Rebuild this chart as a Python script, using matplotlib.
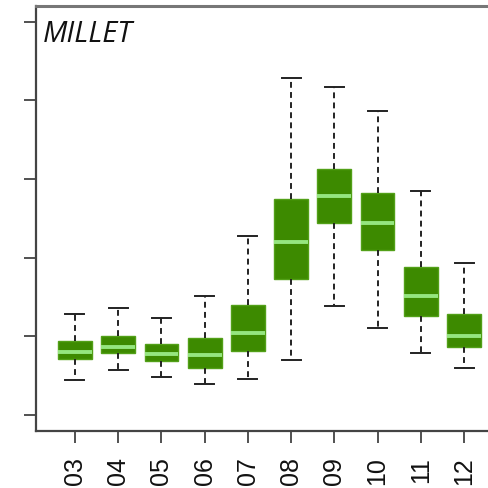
import matplotlib
matplotlib.use("Agg")
import matplotlib.pyplot as plt

months = ["03", "04", "05", "06", "07", "08", "09", "10", "11", "12"]
whislo = [0.45, 0.57, 0.48, 0.40, 0.46, 0.70, 1.38, 1.10, 0.79, 0.60]
q1 = [0.71, 0.79, 0.68, 0.60, 0.81, 1.73, 2.44, 2.10, 1.26, 0.86]
med = [0.80, 0.87, 0.77, 0.76, 1.04, 2.20, 2.79, 2.44, 1.51, 1.00]
q3 = [0.94, 1.00, 0.90, 0.98, 1.40, 2.74, 3.13, 2.82, 1.88, 1.28]
whishi = [1.29, 1.36, 1.23, 1.51, 2.27, 4.28, 4.17, 3.87, 2.85, 1.93]
yticks = [0, 1, 2, 3, 4, 5]

fig = plt.figure(figsize=(4.88, 4.89), dpi=100)
ax = fig.add_axes([36/488, 1 - 431.7/489, (503-36)/488, (431.7-7)/489])

stats = [dict(whislo=a, q1=b, med=c, q3=d, whishi=e, label=m)
         for a, b, c, d, e, m in zip(whislo, q1, med, q3, whishi, months)]
pos = list(range(1, len(months) + 1))
ax.bxp(stats, positions=pos, widths=0.78, capwidths=0.44, showfliers=False,
       patch_artist=True,
       boxprops=dict(facecolor="#3d8a00", edgecolor="#52a018", linewidth=1.0),
       medianprops=dict(color="#95e67f", linewidth=2.8, solid_capstyle="butt"),
       whiskerprops=dict(color="#222222", linewidth=1.4, linestyle=(0, (3, 2.2))),
       capprops=dict(color="#222222", linewidth=1.4))

ax.set_xlim(0.1, 10.9)
ax.set_ylim(-0.2, 5.2)
ax.set_yticks(yticks)
ax.set_yticklabels([])
ax.set_xticks(pos)
ax.set_xticklabels(months, rotation=90, fontsize=18, family="Liberation Sans",
                   color="#111111")
ax.tick_params(axis="x", length=8.5, width=1.2, pad=10, color="#333333")
ax.tick_params(axis="y", length=9, width=1.2, color="#333333")
for s in ["left", "bottom"]:
    ax.spines[s].set_color("#444444")
    ax.spines[s].set_linewidth(1.6)
ax.spines["top"].set_color("#777777")
ax.spines["top"].set_linewidth(2.2)
ax.spines["right"].set_visible(False)

ax.text(43/488, 1 - 42/489, "MILLET", transform=fig.transFigure,
        fontsize=21, style="italic", family="Open Sans", color="#111111",
        ha="left", va="baseline")

fig.savefig("out.png", dpi=100)
